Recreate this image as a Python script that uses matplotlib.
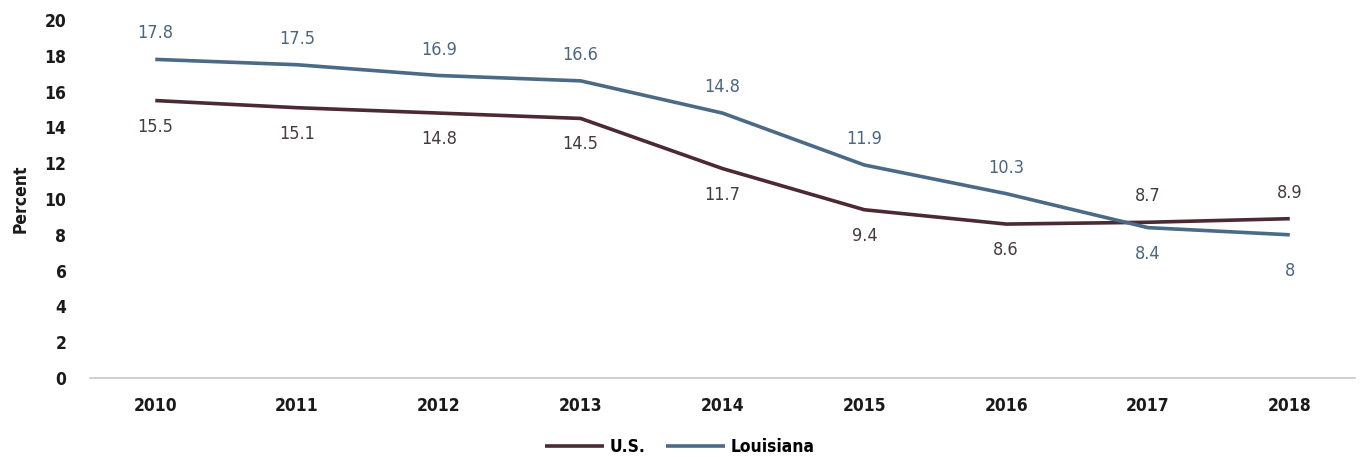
import matplotlib
matplotlib.use("Agg")
import matplotlib.pyplot as plt

years = ["2010", "2011", "2012", "2013", "2014", "2015", "2016", "2017", "2018"]
us = [15.5, 15.1, 14.8, 14.5, 11.7, 9.4, 8.6, 8.7, 8.9]
louisiana = [17.8, 17.5, 16.9, 16.6, 14.8, 11.9, 10.3, 8.4, 8.0]
us_labels = ["15.5", "15.1", "14.8", "14.5", "11.7", "9.4", "8.6", "8.7", "8.9"]
la_labels = ["17.8", "17.5", "16.9", "16.6", "14.8", "11.9", "10.3", "8.4", "8"]
yticks = [0, 2, 4, 6, 8, 10, 12, 14, 16, 18, 20]

cond = dict(family="DejaVu Sans", stretch="condensed", weight="bold", size=12.5)

us_color = "#4b2a33"
la_color = "#4a6a86"

fig = plt.figure(figsize=(13.62, 4.57), dpi=100)
ax = fig.add_axes([90/1362, 1-378/457, (1355-90)/1362, (378-20)/457])

x = list(range(len(years)))
ax.plot(x, us, color=us_color, lw=2.6, label="U.S.", solid_capstyle="butt")
ax.plot(x, louisiana, color=la_color, lw=2.6, label="Louisiana", solid_capstyle="butt")

for i in x:
    us_above = us[i] > louisiana[i]
    off = 1.45
    ax.text(i, us[i] + (off if us_above else -off), us_labels[i], ha="center", va="center",
            fontsize=13, color="#463a3e", family="DejaVu Sans", fontstretch="condensed")
    ax.text(i, louisiana[i] + (-off if us_above else off) - (0.6 if us_above and i == 8 else 0),
            la_labels[i], ha="center", va="center",
            fontsize=13, color="#4a6680", family="DejaVu Sans", fontstretch="condensed")

ax.set_xlim(-0.46, 8.46)
ax.set_ylim(0, 20)
ax.set_xticks(x)
ax.set_xticklabels(years)
ax.set_yticks(yticks)
for lab in ax.get_xticklabels() + ax.get_yticklabels():
    lab.set_fontfamily(cond["family"])
    lab.set_fontstretch(cond["stretch"])
    lab.set_fontweight("bold")
    lab.set_fontsize(12.5)
    lab.set_color("#1a1a1a")
ax.tick_params(axis="both", length=0)
ax.tick_params(axis="x", pad=14)
ax.tick_params(axis="y", pad=17)

for s in ["top", "right", "left"]:
    ax.spines[s].set_visible(False)
ax.spines["bottom"].set_color("#c8c8c8")
ax.spines["bottom"].set_linewidth(1.2)

ax.set_ylabel("Percent", fontdict=cond, color="#1a1a1a")
ax.yaxis.set_label_coords(-60/1265, 0.5)

leg = fig.legend(loc="center", bbox_to_anchor=(680/1362, 1-447/457), ncol=2, frameon=False,
                 prop=cond, handlelength=3.4,
                 handletextpad=0.3, columnspacing=1.2)

fig.savefig("out.png", dpi=100)
